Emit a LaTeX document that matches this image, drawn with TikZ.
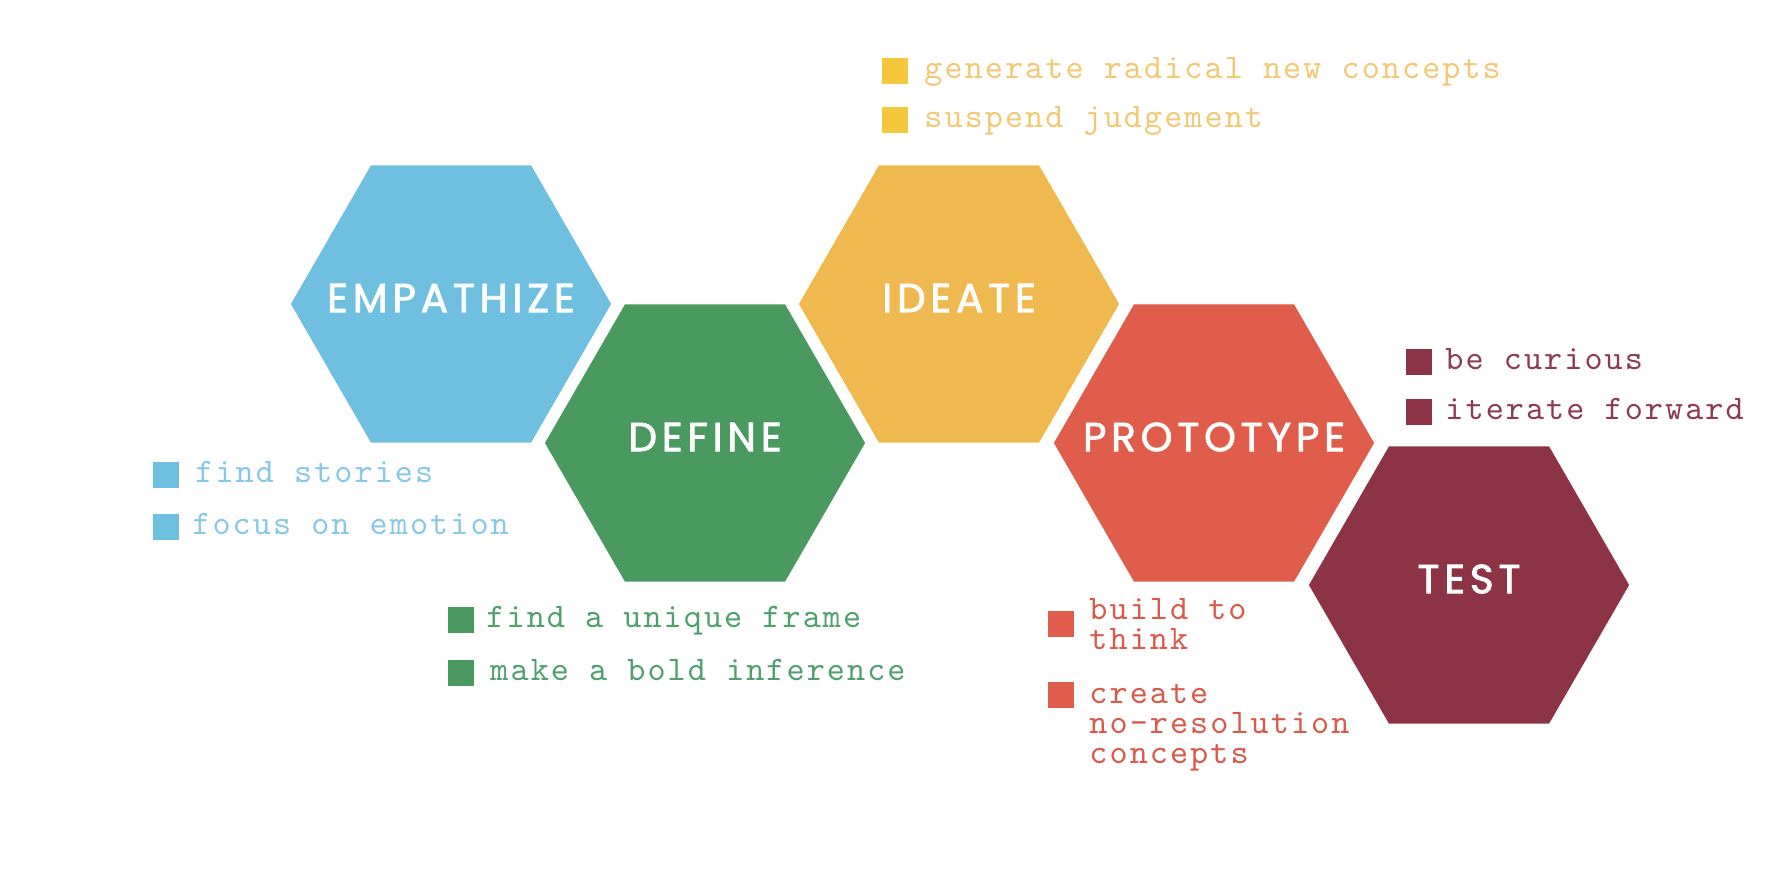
\documentclass[tikz,border=0pt]{standalone}
\usepackage{fontspec}
\usetikzlibrary{positioning,shapes.geometric,calc}
\newfontfamily\hexfont{Poppins}[LetterSpace=12, FakeBold=2]
\newfontfamily\bulfont{lmmono10-regular}[Extension=.otf, LetterSpace=6]
\definecolor{empcolor}{RGB}{111,191,224}
\definecolor{defcolor}{RGB}{74,154,96}
\definecolor{idecolor}{RGB}{240,185,80}
\definecolor{procolor}{RGB}{224,92,75}
\definecolor{tescolor}{RGB}{140,52,70}
\definecolor{idesq}{RGB}{245,200,60}
\definecolor{emptxt}{RGB}{135,200,230}
\definecolor{deftxt}{RGB}{80,160,110}
\definecolor{idetxt}{RGB}{242,200,115}
\definecolor{protxt}{RGB}{215,90,75}
\definecolor{testxt}{RGB}{140,60,80}

\begin{document}
\begin{tikzpicture}[
    x=0.01cm, y=-0.01cm,
    hexa/.style={regular polygon, regular polygon sides=6, minimum size=3.2cm, inner sep=0pt, outer sep=0pt},
    hexlbl/.style={text=white, inner sep=0pt, yshift=0.06cm, font=\hexfont\fontsize{11.5pt}{12pt}\selectfont},
    bulsq/.style={rectangle, minimum size=0.26cm, inner sep=0pt},
    bultxt/.style={inner sep=0pt, align=left, font=\bulfont\fontsize{9.8pt}{8.6pt}\selectfont}
]

\path[fill=white] (0,0) rectangle (1776,888);
\useasboundingbox (0,0) rectangle (1776,888);

% ===== HEXAGONS =====
\node[hexa, fill=empcolor, label={[hexlbl]center:EMPATHIZE}] (empathize) at (451,304) {};
\node[hexa, fill=defcolor, label={[hexlbl]center:DEFINE}] (define) at (705,443) {};
\node[hexa, fill=idecolor, label={[hexlbl]center:IDEATE}] (ideate) at (959,304) {};
\node[hexa, fill=procolor, label={[hexlbl]center:PROTOTYPE}] (prototype) at (1214,443) {};
\node[hexa, fill=tescolor, label={[hexlbl]center:TEST}] (test) at (1469,585) {};

% ===== EMPATHIZE =====
\node[bulsq, fill=empcolor] (empAsq) at (166,475) {};
\node[bultxt, text=emptxt, right=0.15cm of empAsq, anchor=mid west] (empA) {find stories};
\node[bulsq, fill=empcolor] (empBsq) at (166,527) {};
\node[bultxt, text=emptxt, right=0.12cm of empBsq, anchor=mid west] (empB) {focus on emotion};

% ===== DEFINE =====
\node[bulsq, fill=defcolor] (defAsq) at (461,620) {};
\node[bultxt, text=deftxt, right=0.11cm of defAsq, anchor=mid west] (defA) {find a unique frame};
\node[bulsq, fill=defcolor] (defBsq) at (461,673) {};
\node[bultxt, text=deftxt, right=0.15cm of defBsq, anchor=mid west] (defB) {make a bold inference};

% ===== IDEATE =====
\node[bulsq, fill=idesq] (ideAsq) at (895,71) {};
\node[bultxt, text=idetxt, right=0.15cm of ideAsq, anchor=mid west] (ideA) {generate radical new concepts};
\node[bulsq, fill=idesq] (ideBsq) at (895,120) {};
\node[bultxt, text=idetxt, right=0.15cm of ideBsq, anchor=mid west] (ideB) {suspend judgement};

% ===== PROTOTYPE =====
\node[bulsq, fill=procolor] (proAsq) at (1061,624) {};
\node[bultxt, text=protxt, right=0.14cm of proAsq] (proA) {build to\\think};
\node[bulsq, fill=procolor] (proBsq) at (1061,695) {};
\node[bultxt, text=protxt, anchor=north west] (proB) at ($(proBsq.north east)+(14,2)$) {create\\no-resolution\\concepts};

% ===== TEST =====
\node[bulsq, fill=tescolor] (tesAsq) at (1419,362) {};
\node[bultxt, text=testxt, right=0.12cm of tesAsq, anchor=mid west] (tesA) {be curious};
\node[bulsq, fill=tescolor] (tesBsq) at (1419,412) {};
\node[bultxt, text=testxt, right=0.12cm of tesBsq, anchor=mid west] (tesB) {iterate forward};

\end{tikzpicture}
\end{document}
